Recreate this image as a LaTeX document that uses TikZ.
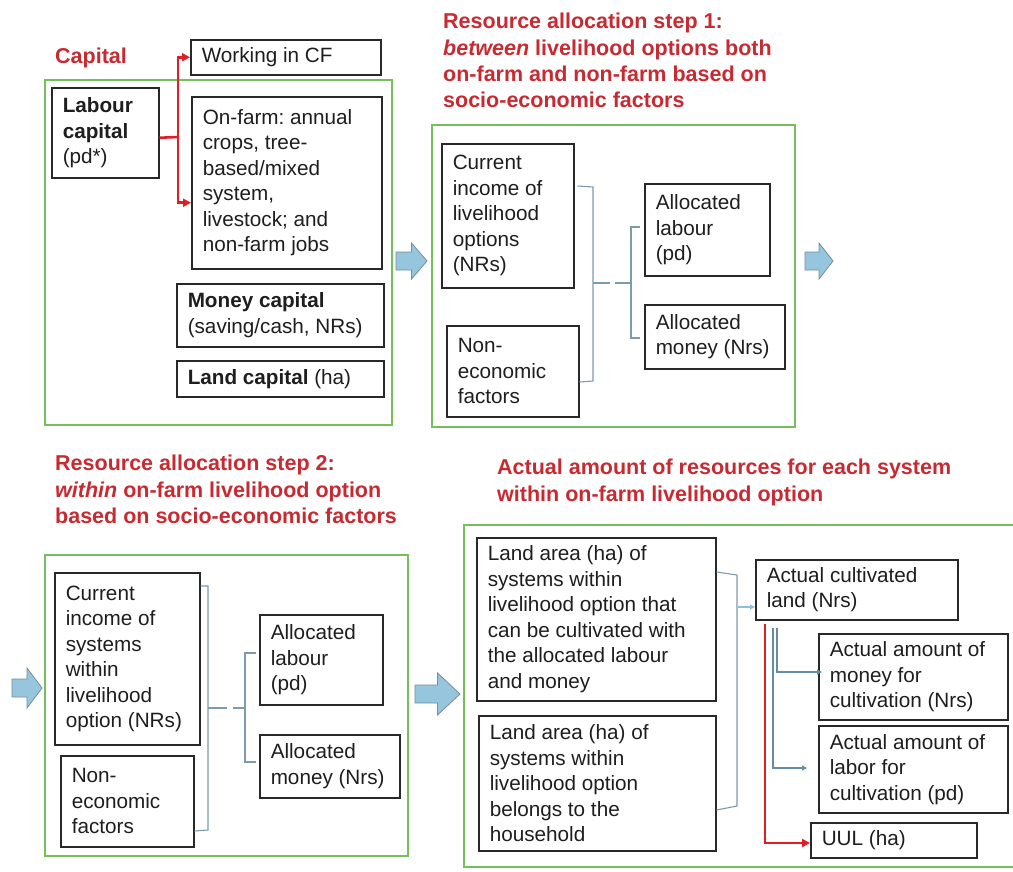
\documentclass[tikz,border=0pt]{standalone}
\usepackage{fontspec}
\setmainfont{Liberation Sans}
\usetikzlibrary{arrows.meta}
\frenchspacing

\definecolor{frameGreen}{RGB}{118,192,92}
\definecolor{titleRed}{RGB}{200,42,50}
\definecolor{linkRed}{RGB}{225,30,35}
\definecolor{brkBlue}{RGB}{125,155,175}
\definecolor{linkBlue}{RGB}{100,140,165}
\definecolor{lightLink}{RGB}{140,192,215}
\definecolor{arrFill}{RGB}{150,198,222}
\definecolor{arrEdge}{RGB}{120,140,155}
\definecolor{boxEdge}{RGB}{40,40,40}
\definecolor{txt}{RGB}{30,30,30}

\tikzset{
  panel/.style={draw=frameGreen, line width=1.8pt},
  box/.style={draw=boxEdge, line width=1.5pt, anchor=north west, align=flush left,
    inner xsep=11pt, inner ysep=0pt, text=txt,
    font=\frenchspacing\fontsize{20.7}{25.5}\selectfont},
  heading/.style={anchor=north west, inner sep=0pt, align=flush left, text=titleRed,
    font=\frenchspacing\bfseries\fontsize{21.5}{26.3}\selectfont},
  brk/.style={draw=brkBlue, line width=1.1pt},
  redline/.style={draw=linkRed, line width=2.6pt},
  redlink/.style={redline, -{Triangle[length=8pt,width=8pt]}},
  bluelink/.style={draw=linkBlue, line width=1.1pt, -{Triangle[length=5pt,width=5pt]}},
  blockarr/.style={fill=arrFill, draw=arrEdge, line width=0.8pt, line join=miter},
}

% text box from its top-left (x1,y1) to bottom-right (x2,y2)
\newcommand\txtbox[6]{%
  \pgfmathsetmacro\boxW{#4-#2-22}\pgfmathsetmacro\boxH{#5-#3}%
  \node[box, text width=\boxW pt, minimum height=\boxH pt] (#1) at (#2,#3) {#6};}

% block arrow: left x, centre y, length, head height
\newcommand\blockarrow[4]{%
  \draw[blockarr] (#1,#2-9) -- (#1+#3/2,#2-9) -- (#1+#3/2,#2-#4/2) -- (#1+#3,#2)
    -- (#1+#3/2,#2+#4/2) -- (#1+#3/2,#2+9) -- (#1,#2+9) -- cycle;}

\begin{document}
\begin{tikzpicture}[x=1pt, y=-1pt]
\useasboundingbox (0,0) rectangle (1013,871);
\fill[white] (0,0) rectangle (1013,871);

% ---------------- capital ----------------
\node[heading] (capT) at (55,48) {Capital};
\draw[panel] (45,80) rectangle (392,425);
\txtbox{WorkCF}{190}{39}{380}{74}{Working in CF}
\txtbox{Labour}{51}{87}{158}{177}{\textbf{Labour}\\\textbf{capital}\\(pd*)}
\txtbox{OnFarm}{191}{96}{381}{268}{On-farm: annual\\crops, tree-\\based/mixed\\system,\\livestock; and\\non-farm jobs}
\txtbox{Money}{176}{283}{383}{346}{\textbf{Money capital}\\(saving/cash, NRs)}
\txtbox{LandC}{176}{360}{383}{396}{\textbf{Land capital} (ha)}

\coordinate (rj) at (178,137);
\draw[redline] ([yshift=-5pt]Labour.east) -- (rj);
\draw[redlink] (rj) |- (WorkCF.west);
\draw[redlink] (rj) |- ([yshift=-20pt]OnFarm.west);

\blockarrow{396}{261}{31}{36}

% ---------------- step 1 ----------------
\node[heading] (t1) at (443,13) {Resource allocation step 1:\\
  \textit{between} livelihood options both\\
  on-farm and non-farm based on\\
  socio-economic factors};
\draw[panel] (432,125) rectangle (795,427);
\txtbox{CurA}{441}{143}{573}{287}{Current\\income of\\livelihood\\options\\(NRs)}
\txtbox{NonA}{446}{325}{578}{416}{Non-\\economic\\factors}
\txtbox{LabA}{644}{183}{769}{275}{Allocated\\labour\\(pd)}
\txtbox{MonA}{644}{304}{784}{368}{Allocated\\money (Nrs)}

\coordinate (bk1t) at (593,187);
\coordinate (bk1b) at (593,381);
\coordinate (bk1m) at (593,283);
\coordinate (bk1n) at (631,283);
\coordinate (bk1rt) at (631,227);
\coordinate (bk1rb) at (631,338);
\draw[brk] ([xshift=3pt,yshift=-43pt]CurA.north east) -- (bk1t) -- (bk1b)
  -- ([yshift=-57pt]NonA.north east);
\draw[brk, dash pattern=on 17pt off 5pt on 30pt off 0pt] (bk1m) -- (bk1n);
\draw[brk] ([xshift=-4pt,yshift=-44pt]LabA.north west) -- (bk1rt) -- (bk1rb)
  -- ([xshift=-4pt,yshift=-34pt]MonA.north west);

\blockarrow{805}{261}{28}{36}

% ---------------- step 2 ----------------
\node[heading] (t2) at (55,455) {Resource allocation step 2:\\
  \textit{within} on-farm livelihood option\\
  based on socio-economic factors};
\blockarrow{12}{688}{30}{40}
\draw[panel] (45,555) rectangle (408,856);
\txtbox{CurB}{54}{572}{199}{744}{Current\\income of\\systems\\within\\livelihood\\option (NRs)}
\txtbox{NonB}{60}{755}{193}{846}{Non-\\economic\\factors}
\txtbox{LabB}{259}{614}{382}{704}{Allocated\\labour\\(pd)}
\txtbox{MonB}{259}{734}{399}{797}{Allocated\\money (Nrs)}

\coordinate (bk2t) at (208,586);
\coordinate (bk2b) at (208,830);
\coordinate (bk2m) at (208,708);
\coordinate (bk2n) at (245,708);
\coordinate (bk2rt) at (245,653);
\coordinate (bk2rb) at (245,762);
\draw[brk] ([yshift=-14pt]CurB.north east) -- (bk2t) -- (bk2b)
  -- ([yshift=-76pt]NonB.north east);
\draw[brk, dash pattern=on 19pt off 6pt on 30pt off 0pt] (bk2m) -- (bk2n);
\draw[brk] ([xshift=-3pt,yshift=-39pt]LabB.north west) -- (bk2rt) -- (bk2rb)
  -- ([xshift=-3pt,yshift=-28pt]MonB.north west);

\blockarrow{415}{694}{45}{42}

% ---------------- actual amounts ----------------
\node[heading] (t3) at (497,459) {Actual amount of resources for each system\\
  within on-farm livelihood option};
\draw[panel] (464,525) rectangle (1016,867);
\txtbox{LandA}{476}{537}{715}{700}{Land area (ha) of\\systems within\\livelihood option that\\can be cultivated with\\the allocated labour\\and money}
\txtbox{LandB}{478}{715}{715}{850}{Land area (ha) of\\systems within\\livelihood option\\belongs to the\\household}
\txtbox{Cult}{755}{559}{957}{619}{Actual cultivated\\land (Nrs)}
\txtbox{MoneyA}{818}{633}{1007}{719}{Actual amount of\\money for\\cultivation (Nrs)}
\txtbox{LaborA}{818}{725}{1007}{812}{Actual amount of\\labor for\\cultivation (pd)}
\txtbox{UUL}{810}{822}{976}{857}{UUL (ha)}

\coordinate (bk3t) at (737,575);
\coordinate (bk3b) at (737,806);
\coordinate (bk3m) at (737,607);
\draw[brk] ([yshift=-35pt]LandA.north east) -- (bk3t) -- (bk3b)
  -- ([yshift=-95pt]LandB.north east);
\draw[bluelink, draw=lightLink] (bk3m) -- (Cult.west |- bk3m);
\draw[bluelink] ([xshift=22pt,yshift=-7pt]Cult.south west)
  |- ([xshift=4pt,yshift=-39pt]MoneyA.north west);
\draw[bluelink] ([xshift=18pt,yshift=-7pt]Cult.south west)
  |- ([xshift=-11pt,yshift=-43pt]LaborA.north west);
\draw[redlink, line width=2.2pt] ([xshift=10pt,yshift=-3pt]Cult.south west)
  |- ([yshift=-21pt]UUL.north west);
\end{tikzpicture}
\end{document}
